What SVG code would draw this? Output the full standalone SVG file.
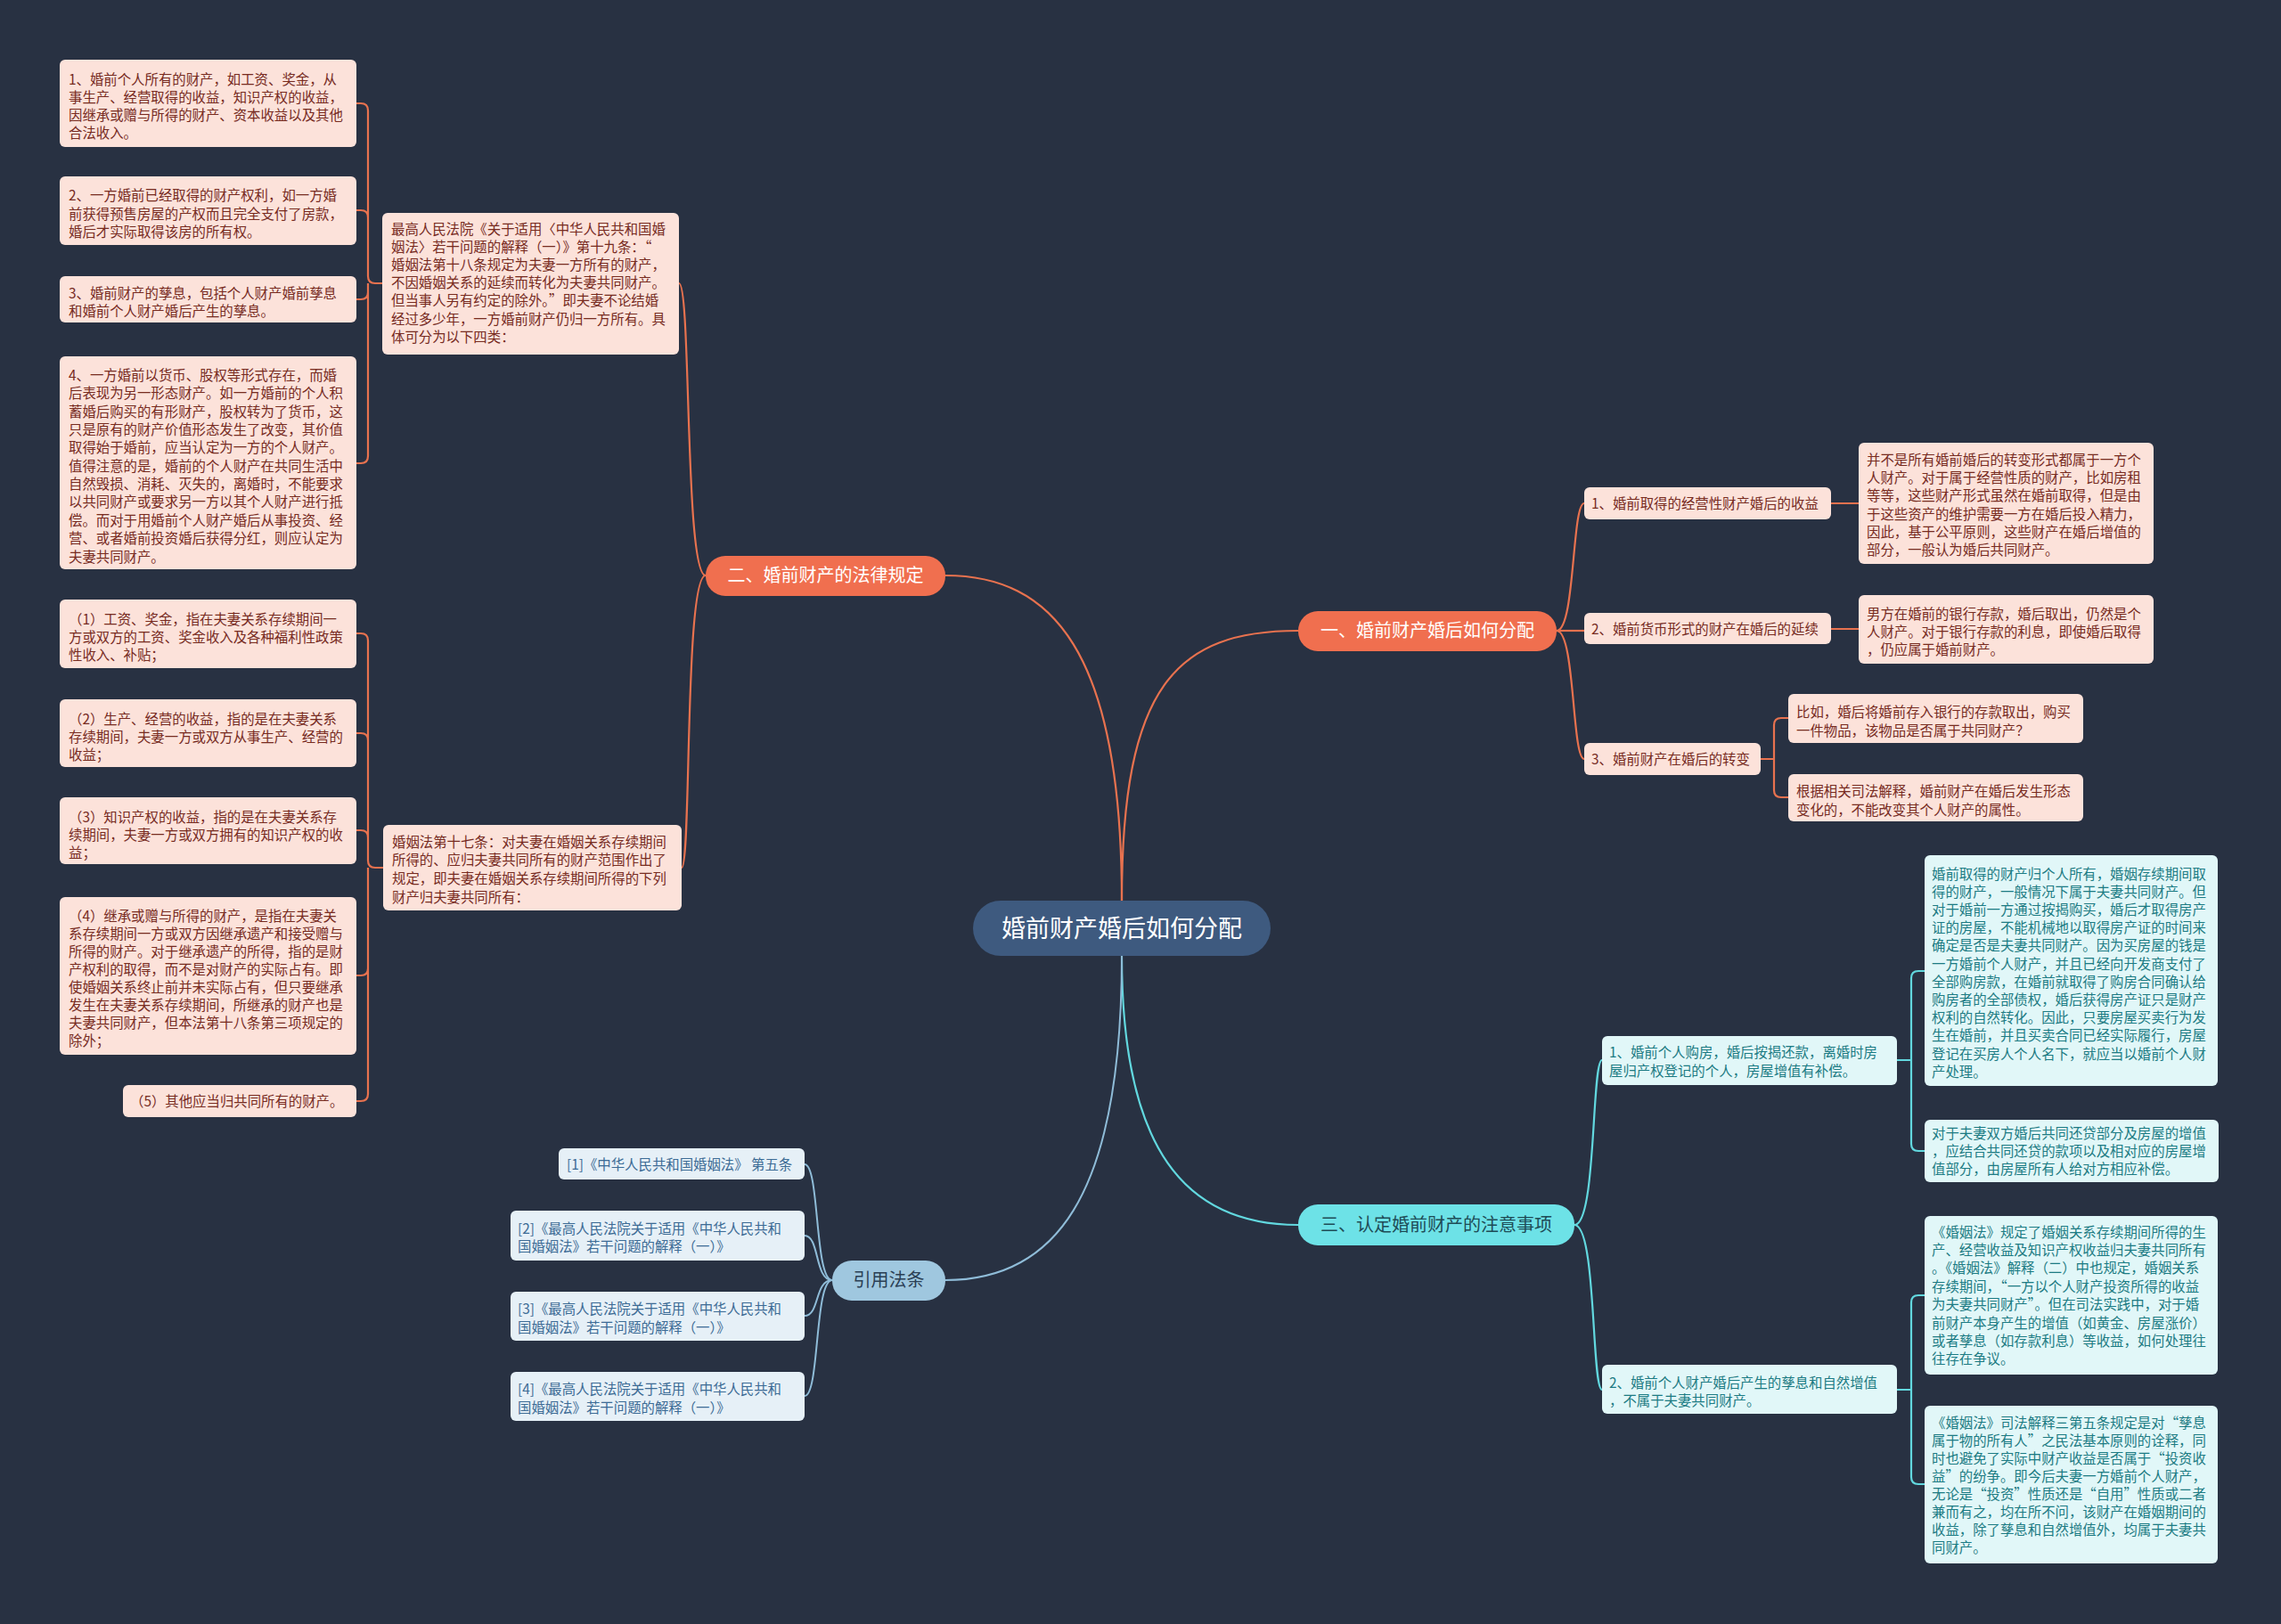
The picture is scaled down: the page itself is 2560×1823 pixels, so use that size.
<svg xmlns="http://www.w3.org/2000/svg" width="2560" height="1823" viewBox="0 0 2560 1823">
<style>
text{font-family:"Noto Sans CJK SC","Microsoft YaHei",sans-serif;}
.lo{fill:#fce2da;}
.lc{fill:#e1f7f8;}
.lq{fill:#e6f0f7;}
.to{font-size:15.4px;fill:#772b1f;}
.tc{font-size:15.4px;fill:#1c7b83;}
.tq{font-size:15.4px;fill:#3c6b95;}
.main{font-size:20px;text-anchor:middle;}
.co{fill:none;stroke:#e8724f;stroke-width:2.2;}
.cc{fill:none;stroke:#62d8df;stroke-width:2.2;}
.cq{fill:none;stroke:#8fbcd8;stroke-width:2;}
</style>
<rect x="0" y="0" width="2560" height="1823" fill="#283142"/>
<g id="connectors">
<path class="co" d="M1259 1011 C1259 730 1180 646 1061 646"/>
<path class="co" d="M1259 1011 C1259 770 1320 708 1457 708"/>
<path class="cc" d="M1259 1073 C1259 1290 1330 1375 1457 1375"/>
<path class="cq" d="M1259 1073 C1259 1350 1180 1437 1061 1437"/>
<path class="co" d="M792 646 C768 646 776 318 762 318"/>
<path class="co" d="M792 646 C768 646 776 974 765 974"/>
<path class="co" d="M429 318 H421 Q413 318 413 310 V124 Q413 116 405 116 H400 M413 310 V244 Q413 236 405 236 H400 M413 318 V328 Q413 336 405 336 H400 M413 318 V512 Q413 520 405 520 H400"/>
<path class="co" d="M430 974 H421 Q413 974 413 966 V719 Q413 711 405 711 H400 M413 966 V831 Q413 823 405 823 H400 M413 966 V940 Q413 932 405 932 H400 M413 974 V1087 Q413 1095 405 1095 H400 M413 1087 V1228 Q413 1236 405 1236 H400"/>
<path class="co" d="M1747 708 C1768 708 1764 565 1778 565"/>
<path class="co" d="M1747 708 H1778"/>
<path class="co" d="M1747 708 C1768 708 1764 852 1778 852"/>
<path class="co" d="M2055 565 H2086 M2055 706 H2086"/>
<path class="co" d="M1976 852 H1991 M1991 852 V814 Q1991 806 1999 806 H2007 M1991 852 V887 Q1991 895 1999 895 H2007"/>
<path class="cc" d="M1767 1375 C1792 1375 1786 1190 1798 1190"/>
<path class="cc" d="M1767 1375 C1792 1375 1786 1560 1798 1560"/>
<path class="cc" d="M2129 1190 H2145 M2145 1190 V1098 Q2145 1090 2153 1090 H2160 M2145 1190 V1284 Q2145 1292 2153 1292 H2160"/>
<path class="cc" d="M2129 1560 H2145 M2145 1560 V1462 Q2145 1454 2153 1454 H2160 M2145 1560 V1658 Q2145 1666 2153 1666 H2160"/>
<path class="cq" d="M934 1437 C914 1437 920 1307 903 1307"/>
<path class="cq" d="M934 1437 C914 1437 920 1387 903 1387"/>
<path class="cq" d="M934 1437 C914 1437 920 1477 903 1477"/>
<path class="cq" d="M934 1437 C914 1437 920 1567 903 1567"/>
</g>
<g id="center">
<rect x="1092" y="1011" width="334" height="62" rx="31" fill="#3e5a7f"/>
<text x="1259" y="1051.5" font-size="27" text-anchor="middle" fill="#ffffff">婚前财产婚后如何分配</text>
</g>
<g id="b2">
<rect x="792" y="624" width="269" height="45" rx="22" fill="#f06f4f"/>
<text class="main" x="926.5" y="653" fill="#ffffff">二、婚前财产的法律规定</text>
</g>
<g id="b1">
<rect x="1457" y="686" width="290" height="45" rx="22" fill="#f06f4f"/>
<text class="main" x="1602" y="715" fill="#ffffff">一、婚前财产婚后如何分配</text>
</g>
<g id="b3">
<rect x="1457" y="1352" width="310" height="46" rx="22" fill="#6de2e7"/>
<text class="main" x="1612" y="1382" fill="#1e4c56">三、认定婚前财产的注意事项</text>
</g>
<g id="b4">
<rect x="934" y="1415" width="127" height="45" rx="22" fill="#9fc7df"/>
<text class="main" x="997.5" y="1444" fill="#2b3f55">引用法条</text>
</g>
<g id="lm1">
<rect class="lo" x="429" y="239" width="333" height="159" rx="6"/>
<text class="to"><tspan x="439" y="262.5">最高人民法院《关于适用〈中华人民共和国婚</tspan><tspan x="439" y="282.7">姻法〉若干问题的解释（一）》第十九条：“</tspan><tspan x="439" y="302.9">婚姻法第十八条规定为夫妻一方所有的财产，</tspan><tspan x="439" y="323.1">不因婚姻关系的延续而转化为夫妻共同财产。</tspan><tspan x="439" y="343.3">但当事人另有约定的除外。”即夫妻不论结婚</tspan><tspan x="439" y="363.5">经过多少年，一方婚前财产仍归一方所有。具</tspan><tspan x="439" y="383.7">体可分为以下四类：</tspan></text>
</g>
<g id="l1">
<rect class="lo" x="67" y="67" width="333" height="98" rx="6"/>
<text class="to"><tspan x="77" y="95">1、婚前个人所有的财产，如工资、奖金，从</tspan><tspan x="77" y="115">事生产、经营取得的收益，知识产权的收益，</tspan><tspan x="77" y="135">因继承或赠与所得的财产、资本收益以及其他</tspan><tspan x="77" y="155">合法收入。</tspan></text>
</g>
<g id="l2">
<rect class="lo" x="67" y="198" width="333" height="77" rx="6"/>
<text class="to"><tspan x="77" y="225">2、一方婚前已经取得的财产权利，如一方婚</tspan><tspan x="77" y="245.5">前获得预售房屋的产权而且完全支付了房款，</tspan><tspan x="77" y="265.5">婚后才实际取得该房的所有权。</tspan></text>
</g>
<g id="l3">
<rect class="lo" x="67" y="310" width="333" height="52" rx="6"/>
<text class="to"><tspan x="77" y="334.5">3、婚前财产的孳息，包括个人财产婚前孳息</tspan><tspan x="77" y="354.5">和婚前个人财产婚后产生的孳息。</tspan></text>
</g>
<g id="l4">
<rect class="lo" x="67" y="400" width="333" height="239" rx="6"/>
<text class="to"><tspan x="77" y="426.5">4、一方婚前以货币、股权等形式存在，而婚</tspan><tspan x="77" y="447">后表现为另一形态财产。如一方婚前的个人积</tspan><tspan x="77" y="467.5">蓄婚后购买的有形财产，股权转为了货币，这</tspan><tspan x="77" y="488">只是原有的财产价值形态发生了改变，其价值</tspan><tspan x="77" y="508">取得始于婚前，应当认定为一方的个人财产。</tspan><tspan x="77" y="528.5">值得注意的是，婚前的个人财产在共同生活中</tspan><tspan x="77" y="549">自然毁损、消耗、灭失的，离婚时，不能要求</tspan><tspan x="77" y="569">以共同财产或要求另一方以其个人财产进行抵</tspan><tspan x="77" y="589.5">偿。而对于用婚前个人财产婚后从事投资、经</tspan><tspan x="77" y="610">营、或者婚前投资婚后获得分红，则应认定为</tspan><tspan x="77" y="630.5">夫妻共同财产。</tspan></text>
</g>
<g id="lm2">
<rect class="lo" x="430" y="926" width="335" height="96" rx="6"/>
<text class="to"><tspan x="440" y="950.5">婚姻法第十七条：对夫妻在婚姻关系存续期间</tspan><tspan x="440" y="971.2">所得的、应归夫妻共同所有的财产范围作出了</tspan><tspan x="440" y="991.9">规定，即夫妻在婚姻关系存续期间所得的下列</tspan><tspan x="440" y="1012.6">财产归夫妻共同所有：</tspan></text>
</g>
<g id="l5">
<rect class="lo" x="67" y="673" width="333" height="77" rx="6"/>
<text class="to"><tspan x="77" y="700.5">（1）工资、奖金，指在夫妻关系存续期间一</tspan><tspan x="77" y="720.5">方或双方的工资、奖金收入及各种福利性政策</tspan><tspan x="77" y="740.5">性收入、补贴；</tspan></text>
</g>
<g id="l6">
<rect class="lo" x="67" y="785" width="333" height="76" rx="6"/>
<text class="to"><tspan x="77" y="812.5">（2）生产、经营的收益，指的是在夫妻关系</tspan><tspan x="77" y="832.5">存续期间，夫妻一方或双方从事生产、经营的</tspan><tspan x="77" y="852.5">收益；</tspan></text>
</g>
<g id="l7">
<rect class="lo" x="67" y="895" width="333" height="75" rx="6"/>
<text class="to"><tspan x="77" y="922.5">（3）知识产权的收益，指的是在夫妻关系存</tspan><tspan x="77" y="942.5">续期间，夫妻一方或双方拥有的知识产权的收</tspan><tspan x="77" y="963">益；</tspan></text>
</g>
<g id="l8">
<rect class="lo" x="67" y="1007" width="333" height="177" rx="6"/>
<text class="to"><tspan x="77" y="1033.5">（4）继承或赠与所得的财产，是指在夫妻关</tspan><tspan x="77" y="1053.5">系存续期间一方或双方因继承遗产和接受赠与</tspan><tspan x="77" y="1073.5">所得的财产。对于继承遗产的所得，指的是财</tspan><tspan x="77" y="1093.5">产权利的取得，而不是对财产的实际占有。即</tspan><tspan x="77" y="1113.5">使婚姻关系终止前并未实际占有，但只要继承</tspan><tspan x="77" y="1133.5">发生在夫妻关系存续期间，所继承的财产也是</tspan><tspan x="77" y="1153.5">夫妻共同财产，但本法第十八条第三项规定的</tspan><tspan x="77" y="1173.5">除外；</tspan></text>
</g>
<g id="l9">
<rect class="lo" x="138" y="1218" width="262" height="36" rx="6"/>
<text class="to" x="146" y="1241.5">（5）其他应当归共同所有的财产。</text>
</g>
<g id="r1">
<rect class="lo" x="1778" y="547" width="277" height="36" rx="6"/>
<text class="to" x="1786" y="570.5">1、婚前取得的经营性财产婚后的收益</text>
</g>
<g id="r2">
<rect class="lo" x="1778" y="688" width="277" height="35" rx="6"/>
<text class="to" x="1786" y="711.5">2、婚前货币形式的财产在婚后的延续</text>
</g>
<g id="r3">
<rect class="lo" x="1778" y="834" width="198" height="36" rx="6"/>
<text class="to" x="1786" y="857.5">3、婚前财产在婚后的转变</text>
</g>
<g id="ra">
<rect class="lo" x="2086" y="497" width="331" height="136" rx="6"/>
<text class="to"><tspan x="2095" y="521.5">并不是所有婚前婚后的转变形式都属于一方个</tspan><tspan x="2095" y="542">人财产。对于属于经营性质的财产，比如房租</tspan><tspan x="2095" y="562">等等，这些财产形式虽然在婚前取得，但是由</tspan><tspan x="2095" y="582.5">于这些资产的维护需要一方在婚后投入精力，</tspan><tspan x="2095" y="602.5">因此，基于公平原则，这些财产在婚后增值的</tspan><tspan x="2095" y="622.5">部分，一般认为婚后共同财产。</tspan></text>
</g>
<g id="rb">
<rect class="lo" x="2086" y="668" width="331" height="77" rx="6"/>
<text class="to"><tspan x="2095" y="694.5">男方在婚前的银行存款，婚后取出，仍然是个</tspan><tspan x="2095" y="714.5">人财产。对于银行存款的利息，即使婚后取得</tspan><tspan x="2095" y="734.5">，仍应属于婚前财产。</tspan></text>
</g>
<g id="rc">
<rect class="lo" x="2007" y="779" width="331" height="55" rx="6"/>
<text class="to"><tspan x="2016" y="804.5">比如，婚后将婚前存入银行的存款取出，购买</tspan><tspan x="2016" y="825.5">一件物品，该物品是否属于共同财产？</tspan></text>
</g>
<g id="rd">
<rect class="lo" x="2007" y="869" width="331" height="53" rx="6"/>
<text class="to"><tspan x="2016" y="893.5">根据相关司法解释，婚前财产在婚后发生形态</tspan><tspan x="2016" y="915">变化的，不能改变其个人财产的属性。</tspan></text>
</g>
<g id="c1">
<rect class="lc" x="1798" y="1163" width="331" height="55" rx="6"/>
<text class="tc"><tspan x="1806" y="1186.5">1、婚前个人购房，婚后按揭还款，离婚时房</tspan><tspan x="1806" y="1207.5">屋归产权登记的个人，房屋增值有补偿。</tspan></text>
</g>
<g id="c2">
<rect class="lc" x="1798" y="1532" width="331" height="55" rx="6"/>
<text class="tc"><tspan x="1806" y="1557.5">2、婚前个人财产婚后产生的孳息和自然增值</tspan><tspan x="1806" y="1577.5">，不属于夫妻共同财产。</tspan></text>
</g>
<g id="ce">
<rect class="lc" x="2160" y="960" width="329" height="259" rx="6"/>
<text class="tc"><tspan x="2168" y="986.5">婚前取得的财产归个人所有，婚姻存续期间取</tspan><tspan x="2168" y="1006.7">得的财产，一般情况下属于夫妻共同财产。但</tspan><tspan x="2168" y="1026.9">对于婚前一方通过按揭购买，婚后才取得房产</tspan><tspan x="2168" y="1047.1">证的房屋，不能机械地以取得房产证的时间来</tspan><tspan x="2168" y="1067.3">确定是否是夫妻共同财产。因为买房屋的钱是</tspan><tspan x="2168" y="1087.5">一方婚前个人财产，并且已经向开发商支付了</tspan><tspan x="2168" y="1107.7">全部购房款，在婚前就取得了购房合同确认给</tspan><tspan x="2168" y="1127.9">购房者的全部债权，婚后获得房产证只是财产</tspan><tspan x="2168" y="1148.1">权利的自然转化。因此，只要房屋买卖行为发</tspan><tspan x="2168" y="1168.3">生在婚前，并且买卖合同已经实际履行，房屋</tspan><tspan x="2168" y="1188.5">登记在买房人个人名下，就应当以婚前个人财</tspan><tspan x="2168" y="1208.7">产处理。</tspan></text>
</g>
<g id="cf">
<rect class="lc" x="2160" y="1257" width="330" height="70" rx="6"/>
<text class="tc"><tspan x="2168" y="1277.5">对于夫妻双方婚后共同还贷部分及房屋的增值</tspan><tspan x="2168" y="1297.5">，应结合共同还贷的款项以及相对应的房屋增</tspan><tspan x="2168" y="1317.5">值部分，由房屋所有人给对方相应补偿。</tspan></text>
</g>
<g id="cg">
<rect class="lc" x="2160" y="1365" width="329" height="178" rx="6"/>
<text class="tc"><tspan x="2168" y="1388.5">《婚姻法》规定了婚姻关系存续期间所得的生</tspan><tspan x="2168" y="1408.9">产、经营收益及知识产权收益归夫妻共同所有</tspan><tspan x="2168" y="1429.3">。《婚姻法》解释（二）中也规定，婚姻关系</tspan><tspan x="2168" y="1449.7">存续期间，“一方以个人财产投资所得的收益</tspan><tspan x="2168" y="1470.1">为夫妻共同财产”。但在司法实践中，对于婚</tspan><tspan x="2168" y="1490.5">前财产本身产生的增值（如黄金、房屋涨价）</tspan><tspan x="2168" y="1510.9">或者孳息（如存款利息）等收益，如何处理往</tspan><tspan x="2168" y="1531.3">往存在争议。</tspan></text>
</g>
<g id="ch">
<rect class="lc" x="2160" y="1578" width="329" height="177" rx="6"/>
<text class="tc"><tspan x="2168" y="1602.5">《婚姻法》司法解释三第五条规定是对“孳息</tspan><tspan x="2168" y="1622.6">属于物的所有人”之民法基本原则的诠释，同</tspan><tspan x="2168" y="1642.7">时也避免了实际中财产收益是否属于“投资收</tspan><tspan x="2168" y="1662.8">益”的纷争。即今后夫妻一方婚前个人财产，</tspan><tspan x="2168" y="1682.9">无论是“投资”性质还是“自用”性质或二者</tspan><tspan x="2168" y="1703">兼而有之，均在所不问，该财产在婚姻期间的</tspan><tspan x="2168" y="1723.1">收益，除了孳息和自然增值外，均属于夫妻共</tspan><tspan x="2168" y="1743.2">同财产。</tspan></text>
</g>
<g id="q1">
<rect class="lq" x="627" y="1289" width="276" height="35" rx="6"/>
<text class="tq" x="636" y="1312.5">[1]《中华人民共和国婚姻法》 第五条</text>
</g>
<g id="q2">
<rect class="lq" x="573" y="1359" width="330" height="56" rx="6"/>
<text class="tq"><tspan x="581" y="1384.5">[2]《最高人民法院关于适用《中华人民共和</tspan><tspan x="581" y="1404.5">国婚姻法》若干问题的解释（一）》</tspan></text>
</g>
<g id="q3">
<rect class="lq" x="573" y="1450" width="330" height="55" rx="6"/>
<text class="tq"><tspan x="581" y="1474.5">[3]《最高人民法院关于适用《中华人民共和</tspan><tspan x="581" y="1495.5">国婚姻法》若干问题的解释（一）》</tspan></text>
</g>
<g id="q4">
<rect class="lq" x="573" y="1540" width="330" height="55" rx="6"/>
<text class="tq"><tspan x="581" y="1564.5">[4]《最高人民法院关于适用《中华人民共和</tspan><tspan x="581" y="1585.5">国婚姻法》若干问题的解释（一）》</tspan></text>
</g>
</svg>
